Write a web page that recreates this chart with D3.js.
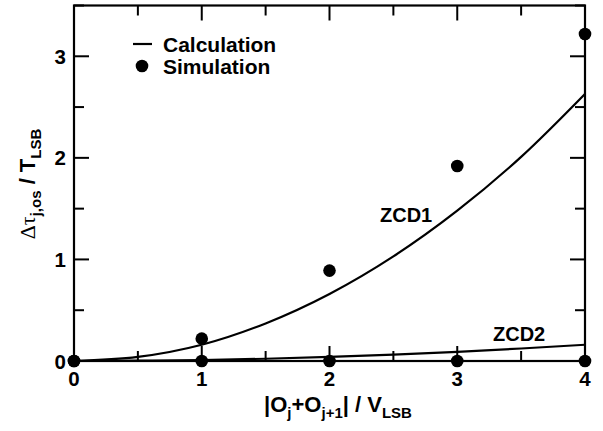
<!DOCTYPE html>
<html>
<head>
<meta charset="utf-8">
<script src="https://cdn.jsdelivr.net/npm/d3@7"></script>
<style>
  body { margin: 0; background: #fff; }
  text { font-family: "Liberation Sans", Arial, sans-serif; font-weight: bold; fill: #000; }
</style>
</head>
<body>
<div id="chart"></div>
<script>
// data
const calcX = [0, 0.5, 1, 1.5, 2, 2.5, 3, 3.5, 4]
const zcd1Calc = [0, 0.04, 0.16, 0.37, 0.66, 1.03, 1.48, 2.01, 2.63]
const zcd2Calc = [0, 0.003, 0.01, 0.022, 0.04, 0.063, 0.09, 0.123, 0.16]
const simX = [0, 1, 2, 3, 4]
const zcd1Sim = [0, 0.22, 0.89, 1.92, 3.22]
const zcd2Sim = [0, 0, 0, 0, 0]
const xTicks = [0, 1, 2, 3, 4]
const yTicks = [0, 1, 2, 3]

const W = 603, H = 431
const pLeft = 74, pRight = 585, pTop = 5.5, pBottom = 361

const x = d3.scaleLinear().domain([0, 4]).range([pLeft, pRight])
const y = d3.scaleLinear().domain([0, 3.5]).range([pBottom, pTop])

const svg = d3.select("#chart").append("svg")
      .attr("width", W)
      .attr("height", H)

const minorX = d3.range(0, 4.01, 0.5)
const minorY = d3.range(0, 3.51, 0.5)
const tickLen = v => (Math.abs(v - Math.round(v)) < 1e-6 ? 15 : 10)

// ticks, all pointing inward
const ticks = svg.append("g").attr("stroke", "#000").attr("stroke-width", 2)
minorX.forEach(v => {
  ticks.append("line").attr("x1", x(v)).attr("x2", x(v)).attr("y1", pBottom).attr("y2", pBottom - tickLen(v))
  ticks.append("line").attr("x1", x(v)).attr("x2", x(v)).attr("y1", pTop).attr("y2", pTop + tickLen(v))
})
minorY.forEach(v => {
  ticks.append("line").attr("y1", y(v)).attr("y2", y(v)).attr("x1", pLeft).attr("x2", pLeft + tickLen(v))
  ticks.append("line").attr("y1", y(v)).attr("y2", y(v)).attr("x1", pRight).attr("x2", pRight - tickLen(v))
})

// frame
svg.append("rect")
  .attr("x", pLeft).attr("y", pTop)
  .attr("width", pRight - pLeft).attr("height", pBottom - pTop)
  .attr("fill", "none").attr("stroke", "#000").attr("stroke-width", 2.2)

// tick labels
svg.selectAll(".xl").data(xTicks).enter().append("text")
  .attr("class", "xl")
  .attr("x", d => x(d)).attr("y", pBottom + 25)
  .attr("text-anchor", "middle").attr("font-size", 20.5)
  .text(d => d)

svg.selectAll(".yl").data(yTicks).enter().append("text")
  .attr("class", "yl")
  .attr("x", pLeft - 8).attr("y", d => y(d) + 7.5)
  .attr("text-anchor", "end").attr("font-size", 20.5)
  .text(d => d)

// curves
const line = d3.line()
      .x((d, i) => x(calcX[i]))
      .y(d => y(d))
      .curve(d3.curveMonotoneX)

;[zcd1Calc, zcd2Calc].forEach(s => {
  svg.append("path")
    .attr("d", line(s))
    .attr("fill", "none")
    .attr("stroke", "#000")
    .attr("stroke-width", 2.2)
})

// simulation dots
;[zcd1Sim, zcd2Sim].forEach(s => {
  svg.append("g").selectAll("circle").data(s).enter().append("circle")
    .attr("cx", (d, i) => x(simX[i]))
    .attr("cy", d => y(d))
    .attr("r", 6.3)
    .attr("fill", "#000")
})

// curve labels
svg.append("text").attr("x", 380).attr("y", 222).attr("font-size", 20).text("ZCD1")
svg.append("text").attr("x", 493).attr("y", 341).attr("font-size", 20).text("ZCD2")

// legend
svg.append("line").attr("x1", 133).attr("x2", 152).attr("y1", 44).attr("y2", 44)
  .attr("stroke", "#000").attr("stroke-width", 2.2)
svg.append("text").attr("x", 163).attr("y", 52).attr("font-size", 21).text("Calculation")
svg.append("circle").attr("cx", 142).attr("cy", 66).attr("r", 6.3).attr("fill", "#000")
svg.append("text").attr("x", 163).attr("y", 74).attr("font-size", 21).text("Simulation")

// x axis label
const xl = svg.append("text")
  .attr("x", 338).attr("y", 412)
  .attr("text-anchor", "middle").attr("font-size", 22)
xl.append("tspan").text("|O")
xl.append("tspan").attr("dy", 6).attr("font-size", 15).text("j")
xl.append("tspan").attr("dy", -6).text("+O")
xl.append("tspan").attr("dy", 6).attr("font-size", 15).text("j+1")
xl.append("tspan").attr("dy", -6).text("| / V")
xl.append("tspan").attr("dy", 6).attr("font-size", 15).text("LSB")

// y axis label
const yl = svg.append("text")
  .attr("transform", "translate(35,184) rotate(-90)")
  .attr("text-anchor", "middle").attr("font-size", 22)
yl.append("tspan").attr("font-family", "'Liberation Serif', serif").attr("font-weight", "normal").text("Δτ")
yl.append("tspan").attr("dy", 6).attr("font-size", 15).text("j,os")
yl.append("tspan").attr("dy", -6).text(" / T")
yl.append("tspan").attr("dy", 6).attr("font-size", 15).text("LSB")
</script>
</body>
</html>
